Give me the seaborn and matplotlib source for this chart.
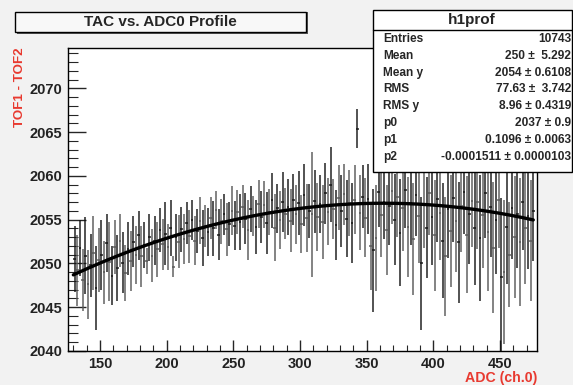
import numpy as np
import pandas as pd
import matplotlib
matplotlib.use("Agg")
import matplotlib.pyplot as plt
from matplotlib.patches import Rectangle
from matplotlib.ticker import MultipleLocator
import seaborn as sns

# profile bins (ADC channel), bin means and errors
adc = list(range(131, 476, 2))

tof_mean = [
    2050.5, 2049.2, 2051.8, 2048.1, 2050.9, 2047.6, 2049.8, 2051.2, 2047.2, 2050.4,
    2051.0, 2049.0, 2052.3, 2050.2, 2048.6, 2051.9, 2049.5, 2052.6, 2050.1, 2048.9,
    2051.7, 2050.3, 2052.5, 2051.0, 2053.2, 2050.8, 2052.1, 2050.3, 2053.0, 2050.9,
    2052.6, 2051.6, 2053.8, 2052.2, 2053.4, 2051.9, 2054.1, 2049.6, 2053.0, 2052.5,
    2053.9, 2052.8, 2054.6, 2053.1, 2055.0, 2052.6, 2053.7, 2054.9, 2052.9, 2054.3,
    2053.6, 2055.2, 2054.0, 2056.1, 2053.3, 2054.8, 2055.6, 2053.9, 2054.5, 2056.0,
    2054.3, 2055.9, 2054.7, 2056.5, 2055.1, 2053.8, 2056.2, 2055.4, 2054.2, 2056.8,
    2055.3, 2056.7, 2054.6, 2055.9, 2057.2, 2054.1, 2056.3, 2055.0, 2057.0, 2055.7,
    2056.4, 2054.9, 2057.3, 2055.6, 2056.9, 2054.5, 2057.8, 2055.2, 2056.0, 2055.6,
    2057.1, 2055.3, 2056.8, 2054.7, 2058.0, 2055.9, 2059.0, 2056.2, 2054.4, 2057.5,
    2056.0, 2057.9, 2055.1, 2056.9, 2054.6, 2057.3, 2065.4, 2055.8, 2057.6, 2055.2,
    2057.4, 2052.0, 2051.5, 2052.9, 2058.1, 2055.5, 2057.0, 2053.8, 2056.6, 2058.3,
    2055.0, 2057.6, 2053.5, 2056.3, 2058.4, 2054.2, 2056.9, 2052.8, 2057.8, 2055.4,
    2050.0, 2056.8, 2054.1, 2058.0, 2055.3, 2053.2, 2057.4, 2055.8, 2052.6, 2050.8,
    2056.2, 2053.7, 2057.5, 2054.9, 2052.4, 2056.6, 2058.2, 2053.3, 2055.7, 2057.1,
    2054.0, 2057.0, 2052.9, 2055.5, 2058.0, 2053.6, 2056.4, 2051.8, 2055.0, 2057.3,
    2048.5, 2049.0, 2054.2, 2051.0, 2056.3, 2053.0, 2055.6, 2052.4, 2057.0, 2054.0,
    2055.4, 2052.6, 2056.0,
]

tof_err = [
    3.8, 4.1, 3.2, 3.5, 4.4, 3.9, 3.6, 4.2, 4.8, 3.7,
    4.0, 3.6, 3.3, 4.5, 3.4, 3.1, 3.8, 3.0, 3.5, 3.2,
    3.0, 3.4, 2.9, 3.3, 2.8, 3.5, 2.6, 1.5, 2.7, 3.0,
    2.8, 3.1, 2.5, 2.9, 3.6, 2.6, 3.2, 1.2, 2.7, 3.0,
    2.6, 2.9, 2.4, 3.0, 2.3, 2.8, 2.5, 2.7, 3.2, 2.4,
    2.7, 2.4, 3.1, 2.2, 2.9, 2.6, 2.3, 3.0, 2.5, 2.8,
    2.8, 2.5, 3.2, 2.4, 2.9, 3.4, 2.6, 2.3, 3.1, 2.7,
    3.0, 2.7, 3.5, 2.6, 3.1, 3.8, 2.8, 3.3, 3.4, 2.9,
    3.2, 3.6, 2.9, 3.4, 3.7, 3.3, 3.5, 3.9, 3.1, 7.1,
    3.6, 3.9, 3.3, 4.2, 3.5, 3.8, 4.3, 3.4, 4.0, 3.7,
    4.1, 3.5, 4.4, 3.8, 4.6, 3.9, 2.2, 4.3, 3.6, 4.5,
    4.0, 5.0, 7.0, 6.0, 3.9, 4.8, 4.2, 5.1, 4.5, 3.8,
    5.2, 4.6, 6.1, 4.9, 4.4, 5.7, 4.8, 6.4, 4.7, 5.3,
    7.6, 5.0, 5.8, 4.7, 5.5, 6.3, 4.9, 5.4, 6.6, 6.8,
    5.6, 6.4, 5.1, 5.9, 6.9, 5.3, 4.8, 6.7, 5.8, 5.2,
    6.5, 5.4, 7.2, 6.0, 5.1, 6.8, 5.7, 7.5, 6.2, 5.5,
    9.0, 8.2, 6.6, 6.0, 5.8, 7.0, 6.1, 7.3, 5.5, 6.4,
    6.0, 6.9, 5.7,
]

# pol2 fit parameters from the stats box
p0, p1, p2 = 2037.0, 0.1096, -0.0001511

stat_names = ["Entries", "Mean", "Mean y", "RMS", "RMS y", "p0", "p1", "p2"]
stat_values = ["10743", "250 \u00b1  5.292", "2054 \u00b1 0.6108", "77.63 \u00b1  3.742",
               "8.96 \u00b1 0.4319", "2037 \u00b1 0.9", "0.1096 \u00b1 0.0063",
               "-0.0001511 \u00b1 0.0000103"]

W, H = 573, 385

def px(x, y):
    return x / W, 1 - y / H

sns.set_style("ticks")
plt.rcParams["font.family"] = ["Liberation Sans", "DejaVu Sans"]
plt.rcParams["font.weight"] = "bold"

fig = plt.figure(figsize=(W / 100, H / 100), dpi=100, facecolor="#f2f2f2")
ax = fig.add_axes([68 / W, 1 - 351 / H, (537 - 68) / W, (351 - 48) / H])
ax.set_facecolor("white")

# alternate two grey levels so the dense bars look like the scanned original
even = slice(0, None, 2)
odd = slice(1, None, 2)
ax.errorbar(adc[even], tof_mean[even], yerr=tof_err[even], xerr=1, fmt="none",
            ecolor="#111111", elinewidth=1.2, alpha=0.85, capsize=0)
ax.errorbar(adc[odd], tof_mean[odd], yerr=tof_err[odd], xerr=1, fmt="none",
            ecolor="#555555", elinewidth=1.2, alpha=0.85, capsize=0)

fit = pd.DataFrame({"x": np.linspace(130, 475, 200)})
fit["y"] = p0 + p1 * fit["x"] + p2 * fit["x"] ** 2
sns.lineplot(data=fit, x="x", y="y", ax=ax, color="black", linewidth=2.4)

ax.set_xlim(126, 477.8)
ax.set_ylim(2040, 2074.6)
ax.xaxis.set_major_locator(MultipleLocator(50))
ax.xaxis.set_minor_locator(MultipleLocator(10))
ax.yaxis.set_major_locator(MultipleLocator(5))
ax.yaxis.set_minor_locator(MultipleLocator(1))
ax.tick_params(axis="x", which="major", direction="in", length=8, width=1,
               labelsize=10.5, pad=4, top=False)
ax.tick_params(axis="x", which="minor", direction="in", length=4, width=0.8, top=False)
ax.tick_params(axis="y", which="major", direction="in", length=13, width=1,
               labelsize=10.5, pad=4, right=False)
ax.tick_params(axis="y", which="minor", direction="in", length=7, width=0.8, right=False)
for lab in ax.get_xticklabels() + ax.get_yticklabels():
    lab.set_fontweight("bold")
    lab.set_color("#222222")
for s in ax.spines.values():
    s.set_linewidth(1)
    s.set_color("black")
ax.set_xlabel("")
ax.set_ylabel("")

red = "#e8392f"
fig.text(*px(20, 47), "TOF1 - TOF2", rotation=90, color=red, fontsize=9.6,
         fontweight="bold", ha="center", va="top")
fig.text(*px(537, 378), "ADC (ch.0)", color=red, fontsize=10.2,
         fontweight="bold", ha="right", va="center")

# title pave with shadow
fig.patches.append(Rectangle(px(17, 34), 291 / W, 22 / H, transform=fig.transFigure,
                             facecolor="#555555", edgecolor="none", zorder=1))
fig.patches.append(Rectangle(px(15, 32), 291 / W, 20 / H, transform=fig.transFigure,
                             facecolor="#f8f8f8", edgecolor="black", linewidth=1, zorder=2))
fig.text(*px(160, 22), "TAC vs. ADC0 Profile", fontsize=11, fontweight="bold",
         ha="center", va="center", zorder=3)

# stats box
fig.patches.append(Rectangle(px(373, 172), 199 / W, 162 / H, transform=fig.transFigure,
                             facecolor="white", edgecolor="black", linewidth=1, zorder=2))
fig.lines.append(plt.Line2D([373 / W, 572 / W], [1 - 30 / H, 1 - 30 / H],
                            transform=fig.transFigure, color="black", linewidth=1, zorder=3))
fig.text(*px(472, 20), "h1prof", fontsize=11, fontweight="bold",
         ha="center", va="center", zorder=3)
for i, (name, val) in enumerate(zip(stat_names, stat_values)):
    y = 39 + i * 16.8
    fig.text(*px(383, y), name, fontsize=8.6, fontweight="bold",
             ha="left", va="center", zorder=3)
    fig.text(*px(571, y), val, fontsize=8.6, fontweight="bold",
             ha="right", va="center", zorder=3)

fig.savefig("out.png", dpi=100, facecolor=fig.get_facecolor())
